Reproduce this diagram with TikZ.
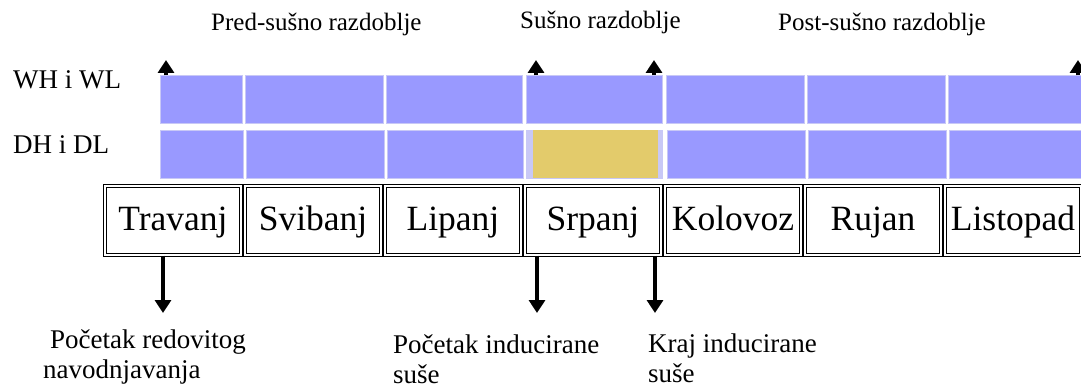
\documentclass[tikz,border=0pt]{standalone}
\usepackage{fontspec}
\setmainfont{Liberation Serif}
\usetikzlibrary{positioning,arrows.meta}
\definecolor{barblue}{RGB}{153,153,255}
\definecolor{edgeblue}{RGB}{200,200,246}
\definecolor{drought}{RGB}{227,203,107}
\tikzset{
	month/.style={draw, double, double distance=1.6pt, line width=1.1pt, minimum width=136.2pt, minimum height=69.2pt, inner sep=0pt, font=\fontsize{35.5}{40}\selectfont, text height=24pt, text depth=3pt},
	cell/.style={fill=barblue, draw=edgeblue, line width=0.6pt},
	arr/.style={line width=3.5pt, -{Triangle[width=16pt,length=13pt]}},
	lbl/.style={inner sep=0pt, align=left, font=\fontsize{27}{30}\selectfont},
	phase/.style={inner sep=0pt, font=\fontsize{25}{28}\selectfont}
}
\begin{document}
\begin{tikzpicture}[x=1pt, y=-1pt, node distance=140pt]
	\useasboundingbox (0,0) rectangle (1081,387);
	\foreach \a/\b in {160/242, 245/383, 386/522, 526/662, 666/804, 807/945, 948/1090}
		\draw[cell] (\a,75) rectangle (\b,123);
	\foreach \a/\b in {160/243, 246/384, 387/523, 667/805, 808/946, 949/1090}
		\draw[cell] (\a,130) rectangle (\b,178);
	\draw[cell, fill=edgeblue] (526,130) rectangle (662,178);
	\fill[drought] (533,130) rectangle (658,178);
	\node (pre) [phase, anchor=base west] at (211,31) {Pred-sušno razdoblje};
	\node (dry) [phase, anchor=base west] at (520,29) {Sušno razdoblje};
	\node (post) [phase, anchor=base west] at (778,31) {Post-sušno razdoblje};
	\node (WH) [lbl, anchor=base west] at (13,89) {WH i WL};
	\node (DH) [lbl, anchor=base west] at (13,154) {DH i DL};
	\node (Tr) [month] at (173,220.5) {Travanj};
	\node (Sv) [month, right of=Tr] {Svibanj};
	\node (Li) [month, right of=Sv] {Lipanj};
	\node (Sr) [month, right of=Li] {Srpanj};
	\node (Ko) [month, right of=Sr] {Kolovoz};
	\node (Ru) [month, right of=Ko] {Rujan};
	\node (Ls) [month, right of=Ru] {Listopad};
	\coordinate (barTop) at (0,75.5);
	\coordinate (u1) at (166,60);
	\coordinate (u2) at (536,60);
	\coordinate (u3) at (654,60);
	\coordinate (u4) at (1078,60);
	\foreach \u in {u1,u2,u3,u4}
		\draw[arr] (\u |- barTop) -- (\u);
	\coordinate (d1) at (163,313);
	\coordinate (d2) at (537,313);
	\coordinate (d3) at (655,313);
	\draw[arr] (Tr.south -| d1) -- (d1);
	\draw[arr] (Sr.south -| d2) -- (d2);
	\draw[arr] (Sr.south -| d3) -- (d3);
	\node (irr) [lbl, anchor=north west] at (43,329.1) {\hspace*{7pt}Početak redovitog\\navodnjavanja};
	\node (start) [lbl, anchor=north west] at (393,334.1) {Početak inducirane\\suše};
	\node (stop) [lbl, anchor=north west] at (648,333.6) {Kraj inducirane\\suše};
\end{tikzpicture}
\end{document}
